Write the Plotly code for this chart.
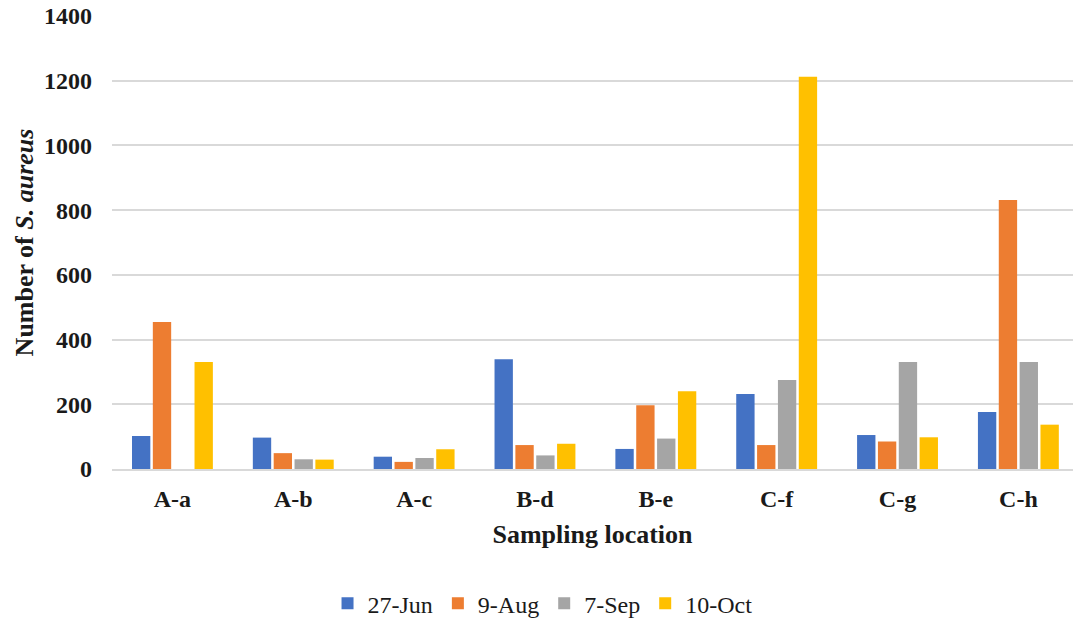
import plotly.graph_objects as go

locations = ["A-a", "A-b", "A-c", "B-d", "B-e", "C-f", "C-g", "C-h"]
dates = ["27-Jun", "9-Aug", "7-Sep", "10-Oct"]
jun27 = [102, 97, 38, 339, 62, 232, 105, 176]
aug9 = [454, 49, 22, 74, 197, 74, 85, 831]
sep7 = [0, 30, 34, 42, 94, 275, 331, 331]
oct10 = [331, 29, 61, 78, 240, 1212, 98, 137]
colors = ["#4472C4", "#ED7D31", "#A5A5A5", "#FFC000"]

series = [jun27, aug9, sep7, oct10]

fig = go.Figure()
for name, vals, col in zip(dates, series, colors):
    fig.add_trace(go.Bar(
        x=locations, y=vals, name=name,
        marker=dict(color=col, line=dict(width=0)),
    ))

serif = "Liberation Serif, Times New Roman, serif"
fig.update_layout(
    width=1073, height=619,
    margin=dict(l=112, r=0, t=16, b=150, autoexpand=False),
    paper_bgcolor="white", plot_bgcolor="white",
    barmode="group", bargap=0.31, bargroupgap=0.12,
    font=dict(family=serif, color="#1a1a1a"),
    xaxis=dict(
        title=dict(text="<b>Sampling location</b>", font=dict(size=26, family=serif), standoff=14),
        tickfont=dict(size=24, family=serif),
        tickprefix="<b>", ticksuffix="</b>",
        range=[-0.5, 7.452], automargin=False,
        showline=True, linecolor="#d9d9d9", linewidth=1.5,
        ticks="", ticklabelstandoff=7,
    ),
    yaxis=dict(
        title=dict(text="<b>Number of <i>S. aureus</i></b>", font=dict(size=26, family=serif), standoff=2),
        range=[0, 1400], dtick=200, automargin=False,
        tickfont=dict(size=24, family=serif),
        tickprefix="<b>", ticksuffix="</b>",
        showgrid=True, gridcolor="#d9d9d9", gridwidth=1.5,
        zeroline=False, ticks="", ticklabelstandoff=19,
    ),
    legend=dict(
        orientation="h", x=0.448, xanchor="center", y=-0.297, yanchor="middle",
        font=dict(size=24, family=serif), itemwidth=30, traceorder="normal",
    ),
)

fig.write_html("out.html")
